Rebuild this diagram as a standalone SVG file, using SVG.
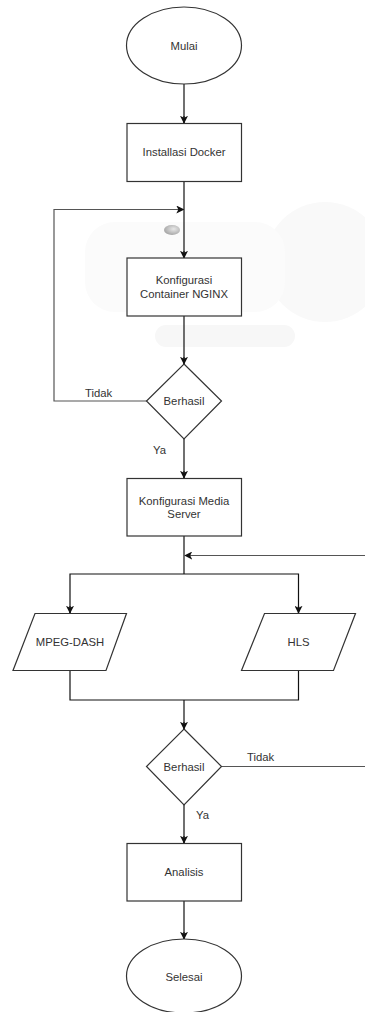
<svg xmlns="http://www.w3.org/2000/svg" width="365" height="1012" viewBox="0 0 365 1012">
<defs>
<style>
.n{fill:#fff;stroke:#333;stroke-width:1.2}
.t{font-family:"Liberation Sans",Arial,sans-serif;font-size:11.3px;fill:#333;text-anchor:middle;dominant-baseline:central}
.l{font-family:"Liberation Sans",Arial,sans-serif;font-size:11.3px;fill:#333;dominant-baseline:central}
.c{fill:none;stroke:#111;stroke-width:1.2}
.c2{fill:none;stroke:#555;stroke-width:1.2}
</style>
<marker id="ar" viewBox="0 0 10 10" refX="9" refY="5" markerWidth="8" markerHeight="8" markerUnits="userSpaceOnUse" orient="auto">
<path d="M0,0 L10,5 L0,10 L2.5,5 Z" fill="#111"/>
</marker>
<radialGradient id="blob" cx="0.6" cy="0.4" r="0.6">
<stop offset="0" stop-color="#e8e8e8"/>
<stop offset="1" stop-color="#a8a8a8"/>
</radialGradient>
</defs>
<rect width="365" height="1012" fill="#fff"/>
<g id="background" fill="#f9f9f9">
<circle cx="325" cy="262" r="60"/>
<rect x="85" y="222" width="200" height="90" rx="30" fill="#fbfbfb"/>
<rect x="155" y="325" width="140" height="22" rx="11" fill="#f7f7f7"/>
<ellipse cx="172" cy="230" rx="8" ry="5" fill="url(#blob)"/>
</g>
<g id="connectors">
<line class="c" x1="184" y1="84" x2="184" y2="123"/>
<line class="c" x1="184" y1="181" x2="184" y2="258"/>
<polyline class="c2" points="147,401 54,401 54,209.5 183.5,209.5" marker-end="url(#ar)"/>
<line class="c" x1="184" y1="316" x2="184" y2="364"/>
<line class="c" x1="184" y1="439" x2="184" y2="478"/>
<line class="c" x1="184" y1="536" x2="184" y2="574"/>
<line class="c2" x1="365" y1="555.5" x2="185" y2="555.5" marker-end="url(#ar)"/>
<polyline class="c" points="70,613 70,574 298.5,574 298.5,613" />
<line class="c" x1="70" y1="606" x2="70" y2="613" marker-end="url(#ar)"/>
<line class="c" x1="298.5" y1="606" x2="298.5" y2="613" marker-end="url(#ar)"/>
<polyline class="c" points="70,671 70,700 298.5,700 298.5,671"/>
<line class="c" x1="184" y1="700" x2="184" y2="729"/>
<line class="c2" x1="222" y1="766.5" x2="365" y2="766.5"/>
<line class="c" x1="184" y1="805" x2="184" y2="843"/>
<line class="c" x1="184" y1="901" x2="184" y2="939"/>
<line class="c" x1="184" y1="116" x2="184" y2="123" marker-end="url(#ar)"/>
<line class="c" x1="184" y1="251" x2="184" y2="258" marker-end="url(#ar)"/>
<line class="c" x1="184" y1="357" x2="184" y2="364" marker-end="url(#ar)"/>
<line class="c" x1="184" y1="471" x2="184" y2="478" marker-end="url(#ar)"/>
<line class="c" x1="184" y1="722" x2="184" y2="729" marker-end="url(#ar)"/>
<line class="c" x1="184" y1="836" x2="184" y2="843" marker-end="url(#ar)"/>
<line class="c" x1="184" y1="932" x2="184" y2="939" marker-end="url(#ar)"/>
<text class="l" x="85" y="392.5">Tidak</text>
<text class="l" x="153" y="450">Ya</text>
<text class="l" x="247" y="757">Tidak</text>
<text class="l" x="196" y="815">Ya</text>
</g>
<g id="mulai">
<ellipse class="n" cx="184" cy="45.5" rx="57.5" ry="38.5"/>
<text class="t" x="184" y="46">Mulai</text>
</g>
<g id="installasi-docker">
<rect class="n" x="127" y="123.5" width="114.5" height="58"/>
<text class="t" x="184" y="152">Installasi Docker</text>
</g>
<g id="konfigurasi-nginx">
<rect class="n" x="127" y="258" width="114.5" height="58"/>
<text class="t" x="184" y="280">Konfigurasi</text>
<text class="t" x="184" y="293.5">Container NGINX</text>
</g>
<g id="berhasil-1">
<polygon class="n" points="184,364 221.5,401 184,439 146.5,401"/>
<text class="t" x="184" y="401">Berhasil</text>
</g>
<g id="konfigurasi-media-server">
<rect class="n" x="127" y="478.5" width="114.5" height="57.5"/>
<text class="t" x="184" y="500.5">Konfigurasi Media</text>
<text class="t" x="184" y="513.5">Server</text>
</g>
<g id="mpeg-dash">
<polygon class="n" points="35,613.5 126.5,613.5 106,670.5 13,670.5"/>
<text class="t" x="70" y="641.5">MPEG-DASH</text>
</g>
<g id="hls">
<polygon class="n" points="264.5,613.5 355.5,613.5 333.5,670.5 241.5,670.5"/>
<text class="t" x="298.5" y="641.5">HLS</text>
</g>
<g id="berhasil-2">
<polygon class="n" points="184,729 221.5,766.5 184,805 146.5,766.5"/>
<text class="t" x="184" y="766.5">Berhasil</text>
</g>
<g id="analisis">
<rect class="n" x="127" y="843.5" width="114.5" height="57.5"/>
<text class="t" x="184" y="872">Analisis</text>
</g>
<g id="selesai">
<ellipse class="n" cx="184" cy="976" rx="57.5" ry="37"/>
<text class="t" x="184" y="977">Selesai</text>
</g>
</svg>
